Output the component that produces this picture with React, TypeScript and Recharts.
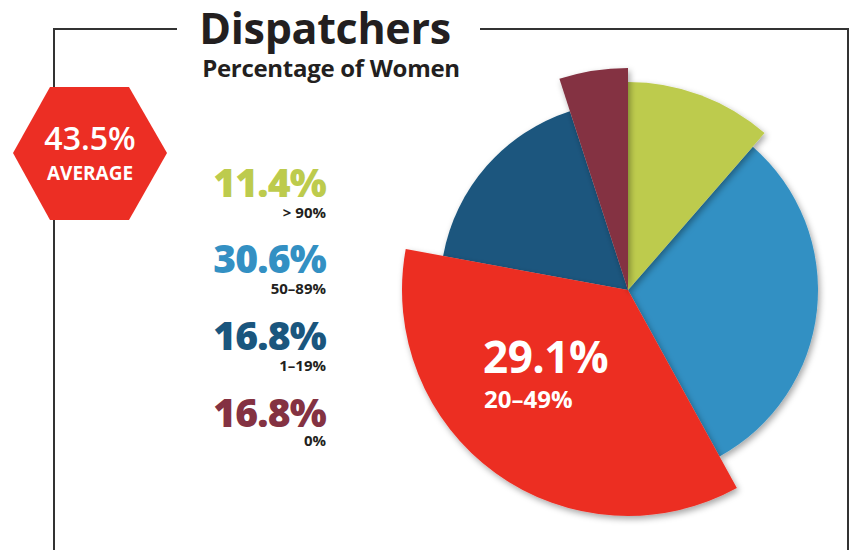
import React from "react";
import { Cell, Pie, PieChart } from "recharts";

// share of dispatch centres by % of women dispatchers
const bands = ["> 90%", "50–89%", "20–49%", "1–19%", "0%"];
const shares = [11.4, 30.6, 35.9, 17.1, 5.0];
// printed figures as they appear on the graphic
const printed = ["11.4%", "30.6%", "29.1%", "16.8%", "16.8%"];
const average = "43.5%";
const title = "Dispatchers";
const subtitle = "Percentage of Women";

const COLORS = ["#bdcb4d", "#3390c3", "#ec2e24", "#1a567e", "#843242"];
const RADII = [208, 190, 226, 188, 222];
const DRAW_ORDER = [1, 3, 2, 0, 4];
const LEGEND_ROWS = [0, 1, 3, 4];
const HIGHLIGHT = 2;

const W = 853;
const H = 550;
const CX = 628;
const CY = 290;
const FONT = "'Open Sans', sans-serif";
const INK = "#231f20";

const data = bands.map((band, i) => ({ band, share: shares[i] }));

function Frame() {
  return (
    <g>
      <path
        d="M54 550 V29 H177 M480 29 H848 V550"
        fill="none"
        stroke="#333"
        strokeWidth={2}
      />
      <text
        x={325}
        y={44}
        textAnchor="middle"
        fontFamily={FONT}
        fontWeight={700}
        fontSize={43}
        fill={INK}
        letterSpacing={-0.3}
      >
        {title}
      </text>
      <text
        x={331}
        y={77}
        textAnchor="middle"
        fontFamily={FONT}
        fontWeight={700}
        fontSize={24}
        fill={INK}
        letterSpacing={-0.3}
      >
        {subtitle}
      </text>
      <polygon
        points="50,87 129,87 167,153 129,220 50,220 13,153"
        fill="#ec2e24"
      />
      <text
        x={90}
        y={150}
        textAnchor="middle"
        fontFamily={FONT}
        fontWeight={600}
        fontSize={32}
        fill="#fff"
      >
        {average}
      </text>
      <text
        x={90}
        y={180}
        textAnchor="middle"
        fontFamily={FONT}
        fontWeight={700}
        fontSize={19}
        fill="#fff"
      >
        AVERAGE
      </text>
      {LEGEND_ROWS.map((idx, row) => {
        const base = [197, 273, 350, 427][row];
        const sub = [218, 294, 371, 446][row];
        return (
          <g key={idx}>
            <text
              x={326}
              y={base}
              textAnchor="end"
              fontFamily={FONT}
              fontWeight={800}
              fontSize={39}
              fill={COLORS[idx]}
              letterSpacing={-0.8}
            >
              {printed[idx]}
            </text>
            <text
              x={326}
              y={sub}
              textAnchor="end"
              fontFamily={FONT}
              fontWeight={700}
              fontSize={15}
              fill={INK}
            >
              {bands[idx]}
            </text>
          </g>
        );
      })}
    </g>
  );
}

function renderSliceLabel(props: any) {
  if (props.index !== HIGHLIGHT) return null;
  const cx = props.cx ?? CX;
  const cy = props.cy ?? CY;
  return (
    <g>
      <text
        x={cx - 145}
        y={cy + 83}
        fontFamily={FONT}
        fontWeight={700}
        fontSize={44}
        fill="#fff"
        letterSpacing={-0.5}
      >
        {printed[HIGHLIGHT]}
      </text>
      <text
        x={cx - 144}
        y={cy + 118}
        fontFamily={FONT}
        fontWeight={700}
        fontSize={24}
        fill="#fff"
      >
        {bands[HIGHLIGHT]}
      </text>
    </g>
  );
}

export default function App() {
  return (
    <div style={{ position: "absolute", left: 0, top: 0, background: "#fff" }}>
      <PieChart width={W} height={H} margin={{ top: 0, right: 0, bottom: 0, left: 0 }}>
        <defs>
          <filter id="wedgeShadow" x="-20%" y="-20%" width="140%" height="140%">
            <feDropShadow dx={2} dy={3} stdDeviation={3} floodColor="#000" floodOpacity={0.35} />
          </filter>
        </defs>
        <Frame />
        {DRAW_ORDER.map((k) => (
          <Pie
            key={k}
            data={data}
            dataKey="share"
            nameKey="band"
            cx={CX}
            cy={CY}
            innerRadius={0}
            outerRadius={RADII[k]}
            startAngle={90}
            endAngle={-270}
            stroke="none"
            isAnimationActive={false}
            label={k === HIGHLIGHT ? renderSliceLabel : false}
            labelLine={false}
          >
            {data.map((d, i) => (
              <Cell
                key={d.band}
                fill={i === k ? COLORS[k] : "transparent"}
                filter={i === k ? "url(#wedgeShadow)" : undefined}
              />
            ))}
          </Pie>
        ))}
      </PieChart>
    </div>
  );
}
